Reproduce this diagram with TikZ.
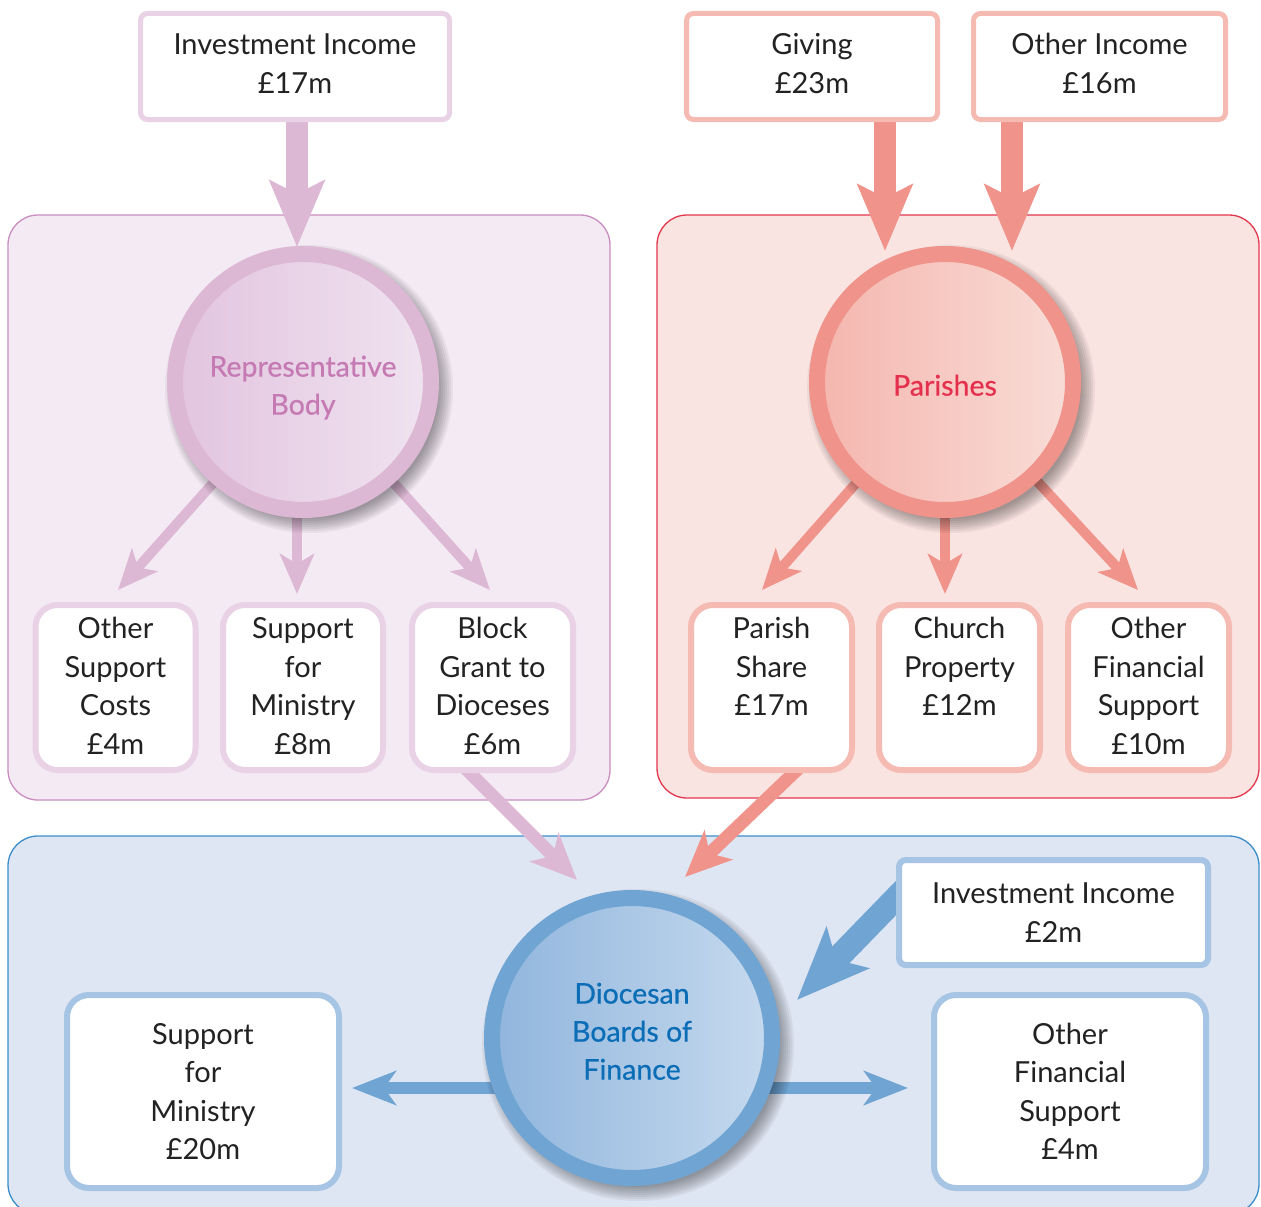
\documentclass[tikz,border=0pt]{standalone}
\usepackage{fontspec}
\setmainfont{Lato}
\newfontfamily\hubfont[FakeBold=0.6]{Lato}
\usetikzlibrary{arrows.meta,calc}
\pgfdeclarelayer{bg}
\pgfdeclarelayer{arr}
\pgfdeclarelayer{shd}
\pgfsetlayers{bg,arr,shd,main}
\definecolor{pFill}{HTML}{F4EAF4}
\definecolor{pLine}{HTML}{C98DC0}
\definecolor{pRing}{HTML}{DDB8D5}
\definecolor{pBox}{HTML}{E9D2E6}
\definecolor{pTxt}{HTML}{C57AB3}
\definecolor{pL}{HTML}{E2C4DF}
\definecolor{pR}{HTML}{F0E3F0}
\definecolor{rFill}{HTML}{FAE4E1}
\definecolor{rLine}{HTML}{E4364D}
\definecolor{rRing}{HTML}{F0938B}
\definecolor{rBox}{HTML}{F5BBB3}
\definecolor{rTxt}{HTML}{E5304D}
\definecolor{rL}{HTML}{F4B6AE}
\definecolor{rR}{HTML}{F9DDD7}
\definecolor{bFill}{HTML}{DFE6F3}
\definecolor{bLine}{HTML}{3B8ECB}
\definecolor{bRing}{HTML}{6FA4D3}
\definecolor{bBox}{HTML}{A6C4E3}
\definecolor{bTxt}{HTML}{0A6DB5}
\definecolor{bL}{HTML}{90B5DD}
\definecolor{bR}{HTML}{C6DAEE}
\definecolor{ink}{HTML}{222222}
\newcommand\boxfont{\fontsize{29}{38.5}\selectfont}
\newcommand\toptext[1]{\parbox[c][140pt][t]{160pt}{\centering #1}}
\newcommand\lines[2]{\raisebox{#1}[\height][\depth]{\begin{tabular}{@{}c@{}}#2\end{tabular}}}
\begin{document}
\begin{tikzpicture}[x=1pt,y=-1pt,
  region/.style={line width=1.3pt, rounded corners=30pt},
  inbox/.style={draw=#1, fill=white, line width=5pt, rounded corners=7pt, inner sep=0pt, align=center, font=\boxfont, text=ink},
  softbox/.style={draw=#1, fill=white, line width=6pt, rounded corners=22pt, inner sep=0pt, font=\boxfont, text=ink},
  hub/.style={circle, inner sep=0pt, line width=16pt, align=center, font=\hubfont\fontsize{28.5}{38}\selectfont},
  bigarrow/.style={draw=#1, line width=22pt, -{Stealth[length=66pt,width=54pt,inset=13pt]}},
  smallarrow/.style={draw=#1, line width=10pt, -{Stealth[length=40pt,width=34pt,inset=10pt]}},
  midarrow/.style={draw=#1, line width=13pt, -{Stealth[length=46pt,width=40pt,inset=12pt]}},
  sidearrow/.style={draw=#1, line width=12pt, -{Stealth[length=44pt,width=34pt,inset=12pt]}},
  inarrow/.style={draw=#1, line width=24pt, -{Stealth[length=72pt,width=58pt,inset=16pt]}}
]
\useasboundingbox (0,0) rectangle (1261,1207);

% regions
\begin{pgfonlayer}{bg}
\fill[white] (0,0) rectangle (1261,1207);
\draw[region, fill=pFill, draw=pLine] (8,215) rectangle (610,800);
\draw[region, fill=rFill, draw=rLine] (657,215) rectangle (1259,798);
\draw[region, fill=bFill, draw=bLine] (8,836) rectangle (1259,1214);
\end{pgfonlayer}

% hubs
\node[hub, minimum size=256pt, draw=pRing, left color=pL, right color=pR, text=pTxt] (rb) at (303,382) {\lines{-6pt}{Representative\\Body}};
\node[hub, minimum size=256pt, draw=rRing, left color=rL, right color=rR, text=rTxt] (par) at (945,382) {\lines{-6pt}{Parishes}};
\node[hub, minimum size=280pt, draw=bRing, left color=bL, right color=bR, text=bTxt] (dbf) at (632,1038) {\lines{4pt}{Diocesan\\Boards of\\Finance}};

% top boxes
\node[inbox=pBox, minimum width=309pt, minimum height=106pt] (inv17) at (295,66.5) {\lines{0pt}{Investment Income\\£17m}};
\node[inbox=rBox, minimum width=251pt, minimum height=106pt] (giv) at (812,66.5) {\lines{0pt}{Giving\\£23m}};
\node[inbox=rBox, minimum width=252pt, minimum height=106pt] (oth16) at (1099.5,66.5) {\lines{0pt}{Other Income\\£16m}};

% purple boxes
\node[softbox=pBox, minimum width=159pt, minimum height=165pt] (osc) at (115.5,687.5) {\toptext{Other\\Support\\Costs\\£4m}};
\node[softbox=pBox, minimum width=160pt, minimum height=165pt] (sfm8) at (303,687.5) {\toptext{Support\\for\\Ministry\\£8m}};
\node[softbox=pBox, minimum width=161pt, minimum height=165pt] (blk) at (492.5,687.5) {\toptext{Block\\Grant to\\Dioceses\\£6m}};

% red boxes
\node[softbox=rBox, minimum width=161pt, minimum height=165pt] (psh) at (771.5,687.5) {\toptext{Parish\\Share\\£17m}};
\node[softbox=rBox, minimum width=161pt, minimum height=165pt] (cpr) at (959.5,687.5) {\toptext{Church\\Property\\£12m}};
\node[softbox=rBox, minimum width=161pt, minimum height=165pt] (ofs10) at (1148.5,687.5) {\toptext{Other\\Financial\\Support\\£10m}};

% blue boxes
\node[inbox=bBox, line width=6pt, minimum width=309pt, minimum height=105pt] (inv2) at (1053.5,912.5) {Investment Income\\£2m};
\node[softbox=bBox, align=center, minimum width=272pt, minimum height=193pt] (sfm20) at (203,1091.5) {Support\\for\\Ministry\\£20m};
\node[softbox=bBox, align=center, minimum width=272pt, minimum height=193pt] (ofs4) at (1070,1091.5) {Other\\Financial\\Support\\£4m};

% shadows
\begin{pgfonlayer}{shd}
\foreach \k in {0,...,7}{
  \fill[black,opacity=0.05] ($(rb.center)+(6,7)$) circle[radius={(130+2*\k)*1pt}];
  \fill[black,opacity=0.05] ($(par.center)+(6,7)$) circle[radius={(130+2*\k)*1pt}];
  \fill[black,opacity=0.05] ($(dbf.center)+(6,7)$) circle[radius={(142+2*\k)*1pt}];
}
\end{pgfonlayer}

% arrows
\begin{pgfonlayer}{arr}
\coordinate (tinv) at (297,247);
\coordinate (tgiv) at (885,251);
\coordinate (toth) at (1012,251);
\draw[bigarrow=pRing] (tinv |- inv17.south) -- (tinv);
\draw[bigarrow=rRing] (tgiv |- giv.south) -- (tgiv);
\draw[bigarrow=rRing] (toth |- oth16.south) -- (toth);

\coordinate (tp1) at (118,590);
\coordinate (tp2) at (297,594);
\coordinate (tp3) at (490,590);
\draw[smallarrow=pRing] (rb.center) -- (tp1);
\draw[smallarrow=pRing] (tp2 |- rb.center) -- (tp2);
\draw[smallarrow=pRing] (rb.center) -- (tp3);

\coordinate (tr1) at (762,590);
\coordinate (tr2) at (945,594);
\coordinate (tr3) at (1138,590);
\draw[smallarrow=rRing] (par.center) -- (tr1);
\draw[smallarrow=rRing] (tr2 |- par.center) -- (tr2);
\draw[smallarrow=rRing] (par.center) -- (tr3);

\coordinate (tb1) at (577,880);
\coordinate (tb2) at (685,877);
\draw[midarrow=pRing] ($(blk.south)+(-30.5,-8)$) -- (tb1);
\draw[midarrow=rRing] ($(psh.south)+(28.5,-6)$) -- (tb2);

\coordinate (tb3) at (797,1000);
\draw[inarrow=bRing] ($(inv2.west)+(15,-30)$) -- (tb3);

\coordinate (tl) at (352,1088);
\coordinate (trr) at (908,1088);
\draw[sidearrow=bRing] ($(dbf.center)+(0,50)$) -- (tl);
\draw[sidearrow=bRing] ($(dbf.center)+(0,50)$) -- (trr);
\end{pgfonlayer}
\end{tikzpicture}
\end{document}
